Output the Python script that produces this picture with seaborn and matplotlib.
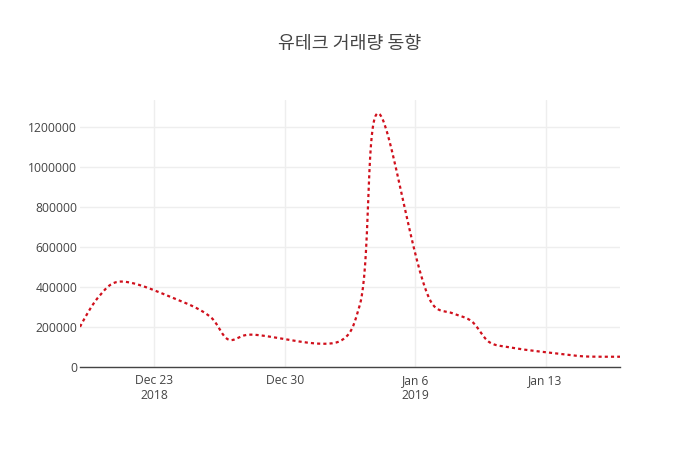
import numpy as np
import pandas as pd
import matplotlib
matplotlib.use("Agg")
import matplotlib.pyplot as plt
import matplotlib.dates as mdates
import seaborn as sns

# ---- data (trading days) ----
dates = ['2018-12-19', '2018-12-20', '2018-12-21', '2018-12-24', '2018-12-26',
         '2018-12-27', '2018-12-28', '2019-01-02', '2019-01-03', '2019-01-04',
         '2019-01-07', '2019-01-08', '2019-01-09', '2019-01-10', '2019-01-11',
         '2019-01-14', '2019-01-15', '2019-01-16', '2019-01-17']
volume = [200000, 350000, 425000, 345000, 250000,
          135000, 160000, 130000, 300000, 1270000,
          305000, 268000, 230000, 122000, 98000,
          62000, 52000, 50000, 50000]
title = '유테크 거래량 동향'
x_ticks = ['2018-12-23', '2018-12-30', '2019-01-06', '2019-01-13']
x_ticklabels = ['Dec 23\n2018', 'Dec 30', 'Jan 6\n2019', 'Jan 13']
y_ticks = [0, 200000, 400000, 600000, 800000, 1000000, 1200000]

df = pd.DataFrame({'date': pd.to_datetime(dates), 'volume': volume})

# ---- plotly-like spline smoothing (rendering only), done in pixel-like space ----
PX_PER_DAY = 18.64
VAL_PER_PX = 5014.0
d0 = df['date'].iloc[0]
px = ((df['date'] - d0).dt.total_seconds() / 86400.0).to_numpy() * PX_PER_DAY
py = df['volume'].to_numpy() / VAL_PER_PX
pts = np.column_stack([px, py])


def make_tangent(p0, p1, p2, s=1.0, e=0.5):
    d1 = p0 - p1
    d2 = p2 - p1
    d1a = (d1 @ d1) ** (e / 2)
    d2a = (d2 @ d2) ** (e / 2)
    num = (d2a * d2a * d1 - d1a * d1a * d2) * s
    den1 = 3 * d2a * (d1a + d2a)
    den2 = 3 * d1a * (d1a + d2a)
    return p1 + num / den1, p1 - num / den2


tans = [make_tangent(pts[i - 1], pts[i], pts[i + 1]) for i in range(1, len(pts) - 1)]
t = np.linspace(0, 1, 40)[:, None]
segs = []
c = tans[0][0]
segs.append((1 - t) ** 2 * pts[0] + 2 * (1 - t) * t * c + t ** 2 * pts[1])
for i in range(2, len(pts) - 1):
    a, b = tans[i - 2][1], tans[i - 1][0]
    p0, p3 = pts[i - 1], pts[i]
    segs.append((1 - t) ** 3 * p0 + 3 * (1 - t) ** 2 * t * a + 3 * (1 - t) * t ** 2 * b + t ** 3 * p3)
c = tans[-1][1]
segs.append((1 - t) ** 2 * pts[-2] + 2 * (1 - t) * t * c + t ** 2 * pts[-1])
curve = np.vstack(segs)
smooth = pd.DataFrame({
    'date': d0 + pd.to_timedelta(curve[:, 0] / PX_PER_DAY, unit='D'),
    'volume': curve[:, 1] * VAL_PER_PX,
})

# ---- figure ----
sns.set_theme(style='white')
plt.rcParams['font.family'] = ['Open Sans', 'Noto Sans CJK KR', 'DejaVu Sans']

fig = plt.figure(figsize=(7, 4.5), dpi=100)
ax = fig.add_axes([80 / 700, 1 - 366.7 / 450, 540 / 700, 266.7 / 450])

sns.lineplot(data=smooth, x='date', y='volume', sort=False, estimator=None,
             ax=ax, color='#d0101c', linewidth=1.6,
             linestyle=(0, (1.4, 1.4)), dash_capstyle='butt')

ax.set_xlim(df['date'].iloc[0], df['date'].iloc[-1])
ax.set_ylim(0, 1337000)

ax.set_xticks(pd.to_datetime(x_ticks))
ax.set_xticklabels(x_ticklabels)
ax.set_yticks(y_ticks)
ax.set_yticklabels([str(v) for v in y_ticks])

ax.grid(True, color='#eeeeee', linewidth=1.0)
ax.set_axisbelow(True)
for s in ['top', 'right', 'left']:
    ax.spines[s].set_visible(False)
ax.spines['bottom'].set_color('#444444')
ax.spines['bottom'].set_linewidth(1.0)

ax.tick_params(axis='both', length=0, labelsize=8.7, labelcolor='#444444')
ax.tick_params(axis='x', pad=5)
ax.tick_params(axis='y', pad=2)
for lab in ax.get_xticklabels():
    lab.set_linespacing(1.25)
ax.set_xlabel('')
ax.set_ylabel('')

fig.text(350 / 700, 1 - 44 / 450, title, ha='center', va='center',
         fontsize=13.2, color='#444444',
         family=['Noto Sans CJK KR', 'DejaVu Sans'])

fig.savefig('out.png', dpi=100, facecolor='white')
